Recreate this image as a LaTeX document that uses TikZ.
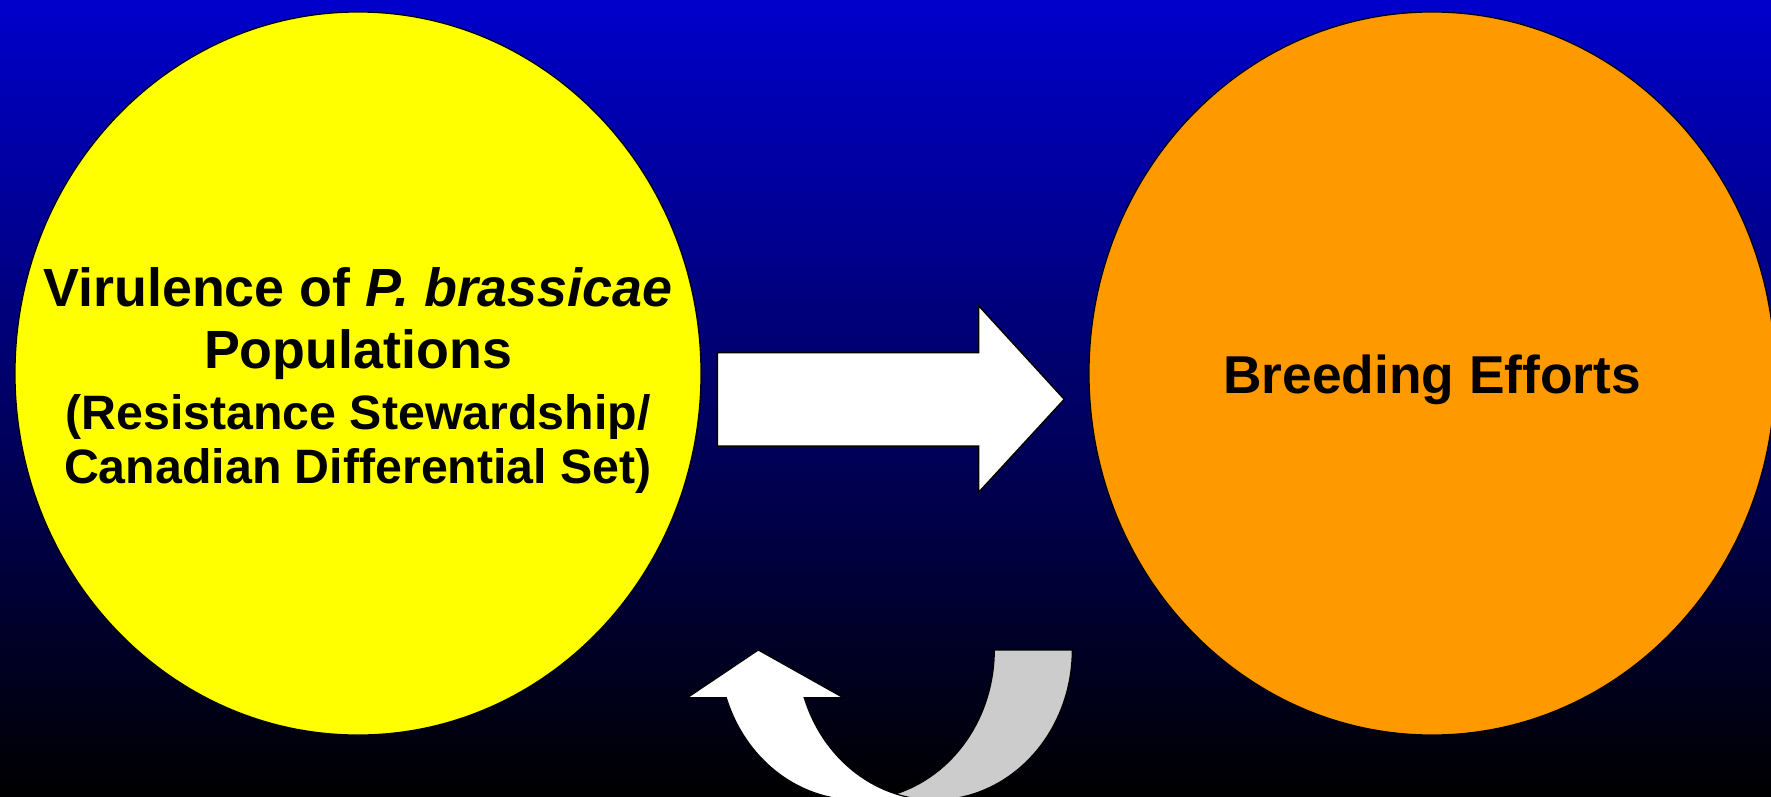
\documentclass[tikz,border=0pt]{standalone}
\usepackage{fontspec}
\setmainfont{Liberation Sans}
\usetikzlibrary{shapes.geometric}
\definecolor{bgtop}{RGB}{0,0,204}
\definecolor{circY}{RGB}{255,255,0}
\definecolor{circO}{RGB}{255,153,0}
\definecolor{bandgray}{RGB}{204,204,204}
\begin{document}
\begin{tikzpicture}[x=1pt,y=-1pt,
  blob/.style={ellipse, draw=black, line width=1.2pt, inner sep=0pt, outer sep=0pt, minimum width=686pt, minimum height=723pt},
  bigtxt/.style={anchor=base, font=\bfseries\fontsize{53.8}{60}\selectfont, inner sep=0pt},
  smalltxt/.style={anchor=base, font=\bfseries\fontsize{48.3}{54}\selectfont, inner sep=0pt},
  blockarrow/.style={fill=white, draw=black, line width=1.5pt, line join=miter},
  bandfront/.style={fill=white, draw=black, line width=1.2pt},
  bandback/.style={fill=bandgray, draw=black, line width=1.2pt}]
\useasboundingbox (0,0) rectangle (1771,796);
\clip (0,0) rectangle (1771,796);
\shade[top color=bgtop, bottom color=black] (0,0) rectangle (1771,796);
% circles
\node[blob, fill=circY] (vir) at (358,373.5) {};
\node[blob, fill=circO] (breed) at (1432,373.5) {};
% texts
\node[bigtxt] (t1) at (358,306) {Virulence of \textit{P. brassicae}};
\node[bigtxt] (t2) at (358,368) {Populations};
\node[smalltxt] (t3) at (358,429) {(Resistance Stewardship/};
\node[smalltxt] (t4) at (358,483.5) {Canadian Differential Set)};
\node[font=\bfseries\fontsize{53.3}{60}\selectfont, anchor=base, inner sep=0pt] (t5) at (1432,393) {Breeding Efforts};
% block arrow right
\draw[blockarrow] (717.3,352.7) -- (978.7,352.7) -- (978.7,305.7) -- (1064.3,399.3)
  -- (978.7,492.3) -- (978.7,446) -- (717.3,446) -- cycle;
% curved up arrow: back (gray) band
\draw[bandback] (1072.3,650)
  -- plot[domain=0:90, samples=40, variable=\t] ({934.7+137.6*cos(\t)},{650+150*sin(\t)})
  -- plot[domain=90:0, samples=40, variable=\t] ({856.7+137.6*cos(\t)},{650+150*sin(\t)})
  -- cycle;
% front (white) band with head
\draw[bandfront] (687.3,697.7) -- (758.3,650) -- (843.3,697.7)
  -- plot[domain=161.46:90, samples=40, variable=\t] ({934.7+137.6*cos(\t)},{650+150*sin(\t)})
  -- plot[domain=90:161.46, samples=40, variable=\t] ({856.7+137.6*cos(\t)},{650+150*sin(\t)})
  -- cycle;
\end{tikzpicture}
\end{document}
